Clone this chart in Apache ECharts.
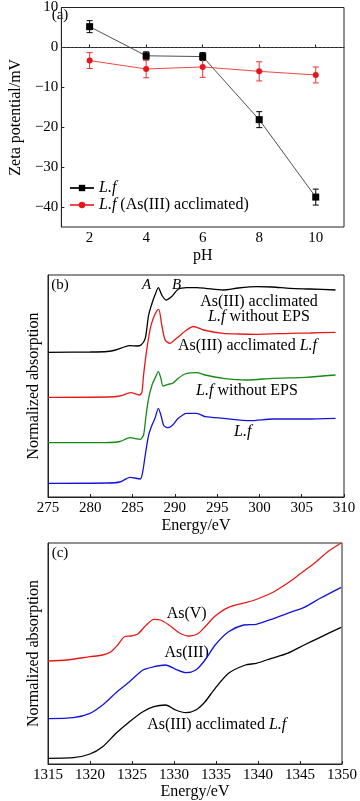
<!DOCTYPE html>
<html>
<head>
<meta charset="utf-8">
<script src="https://cdn.jsdelivr.net/npm/echarts@6/dist/echarts.min.js"></script>
<style>html,body{margin:0;padding:0;background:#fff;}#c{width:360px;height:801px;}</style>
</head>
<body>
<div id="c"></div>
<script>
// ---------- Panel (a): zeta potential ----------
const pH = [2, 4, 6, 8, 10];
const zetaLf = [5.2, -2.1, -2.3, -18.1, -37.5];
const zetaLfErr = [1.5, 1.0, 1.0, 2.0, 2.0];
const zetaAcc = [-3.3, -5.4, -4.9, -6.0, -6.9];
const zetaAccErr = [2.0, 2.2, 2.6, 2.4, 2.0];
const zetaTicks = [-40, -30, -20, -10, 0, 10];
const pHTicks = [2, 4, 6, 8, 10];

// ---------- Panel (b): C K-edge XANES (arbitrary units) ----------
const bAccNoEPS = [[275,144.7],[280,145],[282,145.5],[283,147],[284,150],[284.7,151.3],[285.5,151],[286,152],[286.5,158.7],[286.9,182],[287.3,193.7],[287.65,202],[288.05,209.3],[288.45,202],[288.95,197],[289.6,200.3],[290.4,207.7],[291.4,209.3],[292.6,209.3],[293.6,208.7],[295.7,207],[297.5,209],[299.7,210.3],[301.5,210],[303.6,208.7],[306,208],[309,207]];
const bAcc = [[275,99.7],[282,100],[283.5,101],[284.8,104.3],[285.8,102],[286.1,104.7],[286.3,122],[286.7,148.7],[287.1,168.7],[287.45,178.7],[287.85,186],[288.1,187.7],[288.45,172],[288.85,157],[289.4,153.7],[290.2,158.7],[291.4,167],[292.2,170.5],[293.4,167],[295.7,163.7],[297.5,163],[299.7,162.7],[303.6,163.7],[306,164],[309,164.7]];
const bNoEPS = [[275,54.3],[282,54.5],[283.5,55.5],[284.7,59.3],[285.9,57.7],[286.3,62],[286.6,82],[286.9,98.7],[287.3,112],[287.65,118.7],[288.05,125.3],[288.35,118.7],[288.6,111],[289.2,112.7],[289.75,113.7],[290.4,118.7],[291.2,123],[292.6,124.3],[293.6,122],[295.7,118.7],[298.5,117],[301.6,118.7],[305.5,119.7],[309,122]];
const bLf = [[275,13.7],[282,14],[283.5,15],[284.7,19.7],[285.9,18],[286.2,25.3],[286.5,42],[286.9,62],[287.3,72],[287.65,78.7],[288.05,88.7],[288.35,82],[288.7,71.3],[289.2,69.3],[289.75,72],[290.4,78.7],[291.4,83.7],[292.6,83.7],[293.6,80.3],[295.7,78.7],[298.9,76.3],[301.6,78],[305.5,78],[309,78.7]];

// ---------- Panel (c): As L-edge XANES (arbitrary units) ----------
const cAsV = [[1315,103],[1317.2,104],[1320,107.3],[1321.5,109],[1322.5,112.3],[1323.3,119],[1324.1,127.3],[1324.9,128],[1325.7,130],[1326.7,139],[1327.6,144.7],[1328.4,144],[1329.4,139],[1330.6,131.3],[1331.8,128],[1332.8,130],[1333.7,137.3],[1334.9,148],[1336.5,156.7],[1338.5,161.3],[1339.6,164],[1340.8,168],[1341.9,172.3],[1343.5,180.7],[1345.1,190.7],[1346.7,200.7],[1348.3,212.3],[1349.9,221]];
const cAsIII = [[1315,45.3],[1318,46.3],[1320,50.7],[1321.5,59],[1323.1,71.3],[1324.7,82.3],[1326.3,94],[1327.6,97.3],[1329,99],[1330.2,94.7],[1331.4,91.3],[1332.6,94],[1333.7,104],[1334.9,119],[1336.5,132.3],[1338.3,139],[1339.8,139.7],[1341.6,144.7],[1343.5,150.7],[1345.5,156.7],[1347.4,165.7],[1349.9,176.7]];
const cAccLf = [[1315,5.7],[1318,6.3],[1320,10],[1321.5,17.3],[1323.1,30.7],[1324.7,42.3],[1326.3,52.3],[1327.6,57.3],[1329,59],[1330.2,54],[1331.4,51.3],[1332.6,54],[1333.7,62.3],[1334.9,75.7],[1336.5,90.7],[1338.5,99],[1339.8,100.7],[1341.6,105.7],[1343.5,110.7],[1345.5,119],[1347.4,126.7],[1349.9,136.7]];

const FF = "'Liberation Serif','Times New Roman',serif";
const TXT = {fontFamily: FF, fontSize: 15, color: '#000'};
const NAME = {fontFamily: FF, fontSize: 16, color: '#000'};
const RICH = {i: {fontFamily: FF, fontSize: 16, fontStyle: 'italic', color: '#000'}, n: {fontFamily: FF, fontSize: 16, color: '#000'}};

const chart = echarts.init(document.getElementById('c'), null, {renderer: 'canvas'});

function errSeries(x, y, e, color) {
  return {
    type: 'custom', xAxisIndex: 0, yAxisIndex: 0, z: 3,
    data: x.map((v, i) => [v, y[i] - e[i], y[i] + e[i]]),
    renderItem: function (params, api) {
      const lo = api.coord([api.value(0), api.value(1)]);
      const hi = api.coord([api.value(0), api.value(2)]);
      const w = 3;
      const st = {stroke: color, lineWidth: 1};
      return {type: 'group', children: [
        {type: 'line', shape: {x1: lo[0], y1: lo[1], x2: hi[0], y2: hi[1]}, style: st},
        {type: 'line', shape: {x1: lo[0]-w, y1: lo[1], x2: lo[0]+w, y2: lo[1]}, style: st},
        {type: 'line', shape: {x1: hi[0]-w, y1: hi[1], x2: hi[0]+w, y2: hi[1]}, style: st}
      ]};
    }
  };
}

const axisLineS = {show: true, lineStyle: {color: '#222', width: 1}};
const tickIn = {show: true, inside: true, length: 3, lineStyle: {color: '#222'}};
const minusFmt = v => String(v).replace('-', '\u2212');
const plainFmt = v => String(v);

function specLine(data, color, xi) {
  return {type: 'line', xAxisIndex: xi, yAxisIndex: xi, data: data, showSymbol: false, symbol: 'none',
    smooth: 0.25, lineStyle: {color: color, width: 1.3}, itemStyle: {color: color}};
}

const option = {
  animation: false,
  backgroundColor: '#fff',
  grid: [
    {left: 48, right: 16, top: 5, height: 222, show: true, borderColor: '#222', borderWidth: 1},
    {left: 48, right: 16, top: 275, height: 222, show: true, borderColor: '#222', borderWidth: 1},
    {left: 48, right: 16, top: 543, height: 221, show: true, borderColor: '#222', borderWidth: 1}
  ],
  xAxis: [
    {gridIndex: 0, type: 'value', min: 1, max: 11, axisLine: axisLineS, splitLine: {show: false},
     axisTick: Object.assign({customValues: pHTicks}, tickIn),
     axisLabel: Object.assign({customValues: pHTicks, margin: 4, formatter: plainFmt}, TXT),
     name: 'pH', nameLocation: 'middle', nameGap: 21, nameTextStyle: NAME},
    {gridIndex: 1, type: 'value', min: 275, max: 310, interval: 5, axisLine: axisLineS, splitLine: {show: false},
     axisTick: tickIn, axisLabel: Object.assign({margin: 4, formatter: plainFmt}, TXT),
     name: 'Energy/eV', nameLocation: 'middle', nameGap: 21, nameTextStyle: NAME},
    {gridIndex: 2, type: 'value', min: 1315, max: 1350, interval: 5, axisLine: axisLineS, splitLine: {show: false},
     axisTick: tickIn, axisLabel: Object.assign({margin: 4, formatter: plainFmt}, TXT),
     name: 'Energy/eV', nameLocation: 'middle', nameGap: 20, nameTextStyle: NAME}
  ],
  yAxis: [
    {gridIndex: 0, type: 'value', min: -45, max: 10, axisLine: axisLineS, splitLine: {show: false},
     axisTick: Object.assign({customValues: zetaTicks}, tickIn),
     axisLabel: Object.assign({customValues: zetaTicks, margin: 3, formatter: minusFmt}, TXT),
     name: 'Zeta potential/mV', nameLocation: 'middle', nameGap: 32, nameTextStyle: NAME},
    {gridIndex: 1, type: 'value', min: 0, max: 222, axisLine: axisLineS, splitLine: {show: false},
     axisTick: {show: false}, axisLabel: {show: false},
     name: 'Normalized absorption', nameLocation: 'middle', nameGap: 6, nameTextStyle: NAME},
    {gridIndex: 2, type: 'value', min: 0, max: 221, axisLine: axisLineS, splitLine: {show: false},
     axisTick: {show: false}, axisLabel: {show: false},
     name: 'Normalized absorption', nameLocation: 'middle', nameGap: 6, nameTextStyle: NAME}
  ],
  legend: {
    data: ['Lf', 'LfAcc'], orient: 'vertical', left: 64, top: 175, itemGap: 1, itemWidth: 24, itemHeight: 8,
    textStyle: {fontFamily: FF, fontSize: 16, color: '#000', rich: RICH},
    formatter: function (n) { return n === 'Lf' ? '{i|L.f}' : '{i|L.f}{n| (As(III) acclimated)}'; }
  },
  series: [
    {name: 'Lf', type: 'line', xAxisIndex: 0, yAxisIndex: 0, z: 4, data: pH.map((v, i) => [v, zetaLf[i]]),
     symbol: 'rect', symbolSize: 7, lineStyle: {color: '#222', width: 0.8}, itemStyle: {color: '#000'},
     markLine: {silent: true, symbol: 'none', label: {show: false}, lineStyle: {color: '#444', type: [2, 2], width: 1},
                data: [{yAxis: 0}]}},
    {name: 'LfAcc', type: 'line', xAxisIndex: 0, yAxisIndex: 0, z: 4, data: pH.map((v, i) => [v, zetaAcc[i]]),
     symbol: 'circle', symbolSize: 6, lineStyle: {color: '#f04848', width: 1}, itemStyle: {color: '#e8141c'}},
    errSeries(pH, zetaLf, zetaLfErr, '#000'),
    errSeries(pH, zetaAcc, zetaAccErr, '#f03030'),
    specLine(bAccNoEPS, '#000', 1),
    specLine(bAcc, '#e81818', 1),
    specLine(bNoEPS, '#138a13', 1),
    specLine(bLf, '#1414d8', 1),
    specLine(cAsV, '#e81818', 2),
    specLine(cAsIII, '#1414d8', 2),
    specLine(cAccLf, '#000', 2)
  ],
  graphic: [
    {type: 'text', x: 60, y: 15, style: {text: '(a)', font: "15px " + FF, fill: '#000', align: 'center', verticalAlign: 'middle'}},
    {type: 'text', x: 60, y: 285, style: {text: '(b)', font: "15px " + FF, fill: '#000', align: 'center', verticalAlign: 'middle'}},
    {type: 'text', x: 60, y: 553, style: {text: '(c)', font: "15px " + FF, fill: '#000', align: 'center', verticalAlign: 'middle'}},
    {type: 'text', x: 146.7, y: 285, style: {text: 'A', font: "italic 15px " + FF, fill: '#000', align: 'center', verticalAlign: 'middle'}},
    {type: 'text', x: 176.7, y: 285, style: {text: 'B', font: "italic 15px " + FF, fill: '#000', align: 'center', verticalAlign: 'middle'}},
    {type: 'text', x: 259, y: 301.5, style: {text: '{n|As(III) acclimated}', rich: RICH, align: 'center', verticalAlign: 'middle'}},
    {type: 'text', x: 259, y: 316.7, style: {text: '{i|L.f}{n| without EPS}', rich: RICH, align: 'center', verticalAlign: 'middle'}},
    {type: 'text', x: 247.5, y: 346, style: {text: '{n|As(III) acclimated }{i|L.f}', rich: RICH, align: 'center', verticalAlign: 'middle'}},
    {type: 'text', x: 247, y: 391, style: {text: '{i|L.f}{n| without EPS}', rich: RICH, align: 'center', verticalAlign: 'middle'}},
    {type: 'text', x: 242.7, y: 432, style: {text: '{i|L.f}', rich: RICH, align: 'center', verticalAlign: 'middle'}},
    {type: 'text', x: 186.7, y: 613.3, style: {text: '{n|As(V)}', rich: RICH, align: 'center', verticalAlign: 'middle'}},
    {type: 'text', x: 186.7, y: 652.7, style: {text: '{n|As(III)}', rich: RICH, align: 'center', verticalAlign: 'middle'}},
    {type: 'text', x: 216.7, y: 725, style: {text: '{n|As(III) acclimated }{i|L.f}', rich: RICH, align: 'center', verticalAlign: 'middle'}}
  ]
};
chart.setOption(option);
</script>
</body>
</html>
